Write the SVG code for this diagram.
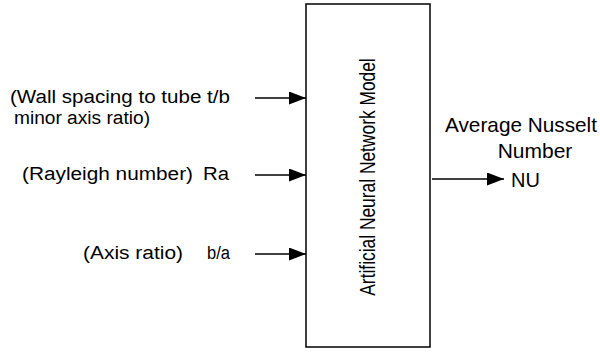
<svg xmlns="http://www.w3.org/2000/svg" width="600" height="359" viewBox="0 0 600 359">
<defs>
<marker id="ah" viewBox="0 0 17 13" refX="17" refY="6.5" markerWidth="17" markerHeight="13" markerUnits="userSpaceOnUse" orient="auto">
<path d="M0,0 L17,6.5 L0,13 Z" fill="#000"/>
</marker>
</defs>
<style>
text{font-family:"Liberation Sans",Arial,sans-serif;font-size:18px;fill:#000}
.big{font-size:21px}
.ln{stroke:#000;stroke-width:1.5;fill:none}
</style>
<rect width="600" height="359" fill="#fff"/>
<g id="model">
<rect x="306" y="4" width="124" height="343" fill="#fff" stroke="#000" stroke-width="1.5"/>
<text transform="translate(375,177) rotate(-90) scale(0.79,1)" text-anchor="middle" style="font-size:22px">Artificial Neural Network Model</text>
</g>
<g id="in1">
<text x="10" y="103" textLength="220" lengthAdjust="spacingAndGlyphs">(Wall spacing to tube t/b</text>
<text x="14" y="124" textLength="136" lengthAdjust="spacingAndGlyphs">minor axis ratio)</text>
</g>
<g id="in2">
<text x="22" y="180" textLength="171" lengthAdjust="spacingAndGlyphs">(Rayleigh number)</text>
<text x="203" y="180" textLength="26" lengthAdjust="spacingAndGlyphs">Ra</text>
</g>
<g id="in3">
<text x="83" y="259" textLength="100" lengthAdjust="spacingAndGlyphs">(Axis ratio)</text>
<text x="207" y="259" textLength="23" lengthAdjust="spacingAndGlyphs">b/a</text>
</g>
<g id="out">
<text class="big" x="445" y="132" textLength="152" lengthAdjust="spacingAndGlyphs">Average Nusselt</text>
<text class="big" x="535" y="158" text-anchor="middle">Number</text>
<text class="big" x="511" y="187" style="font-size:20px">NU</text>
</g>
<g id="connectors">
<line class="ln" x1="255" y1="98" x2="306" y2="98" marker-end="url(#ah)"/>
<line class="ln" x1="255" y1="175" x2="306" y2="175" marker-end="url(#ah)"/>
<line class="ln" x1="255" y1="254" x2="306" y2="254" marker-end="url(#ah)"/>
<line class="ln" x1="432" y1="179" x2="504" y2="179" marker-end="url(#ah)"/>
</g>
</svg>
